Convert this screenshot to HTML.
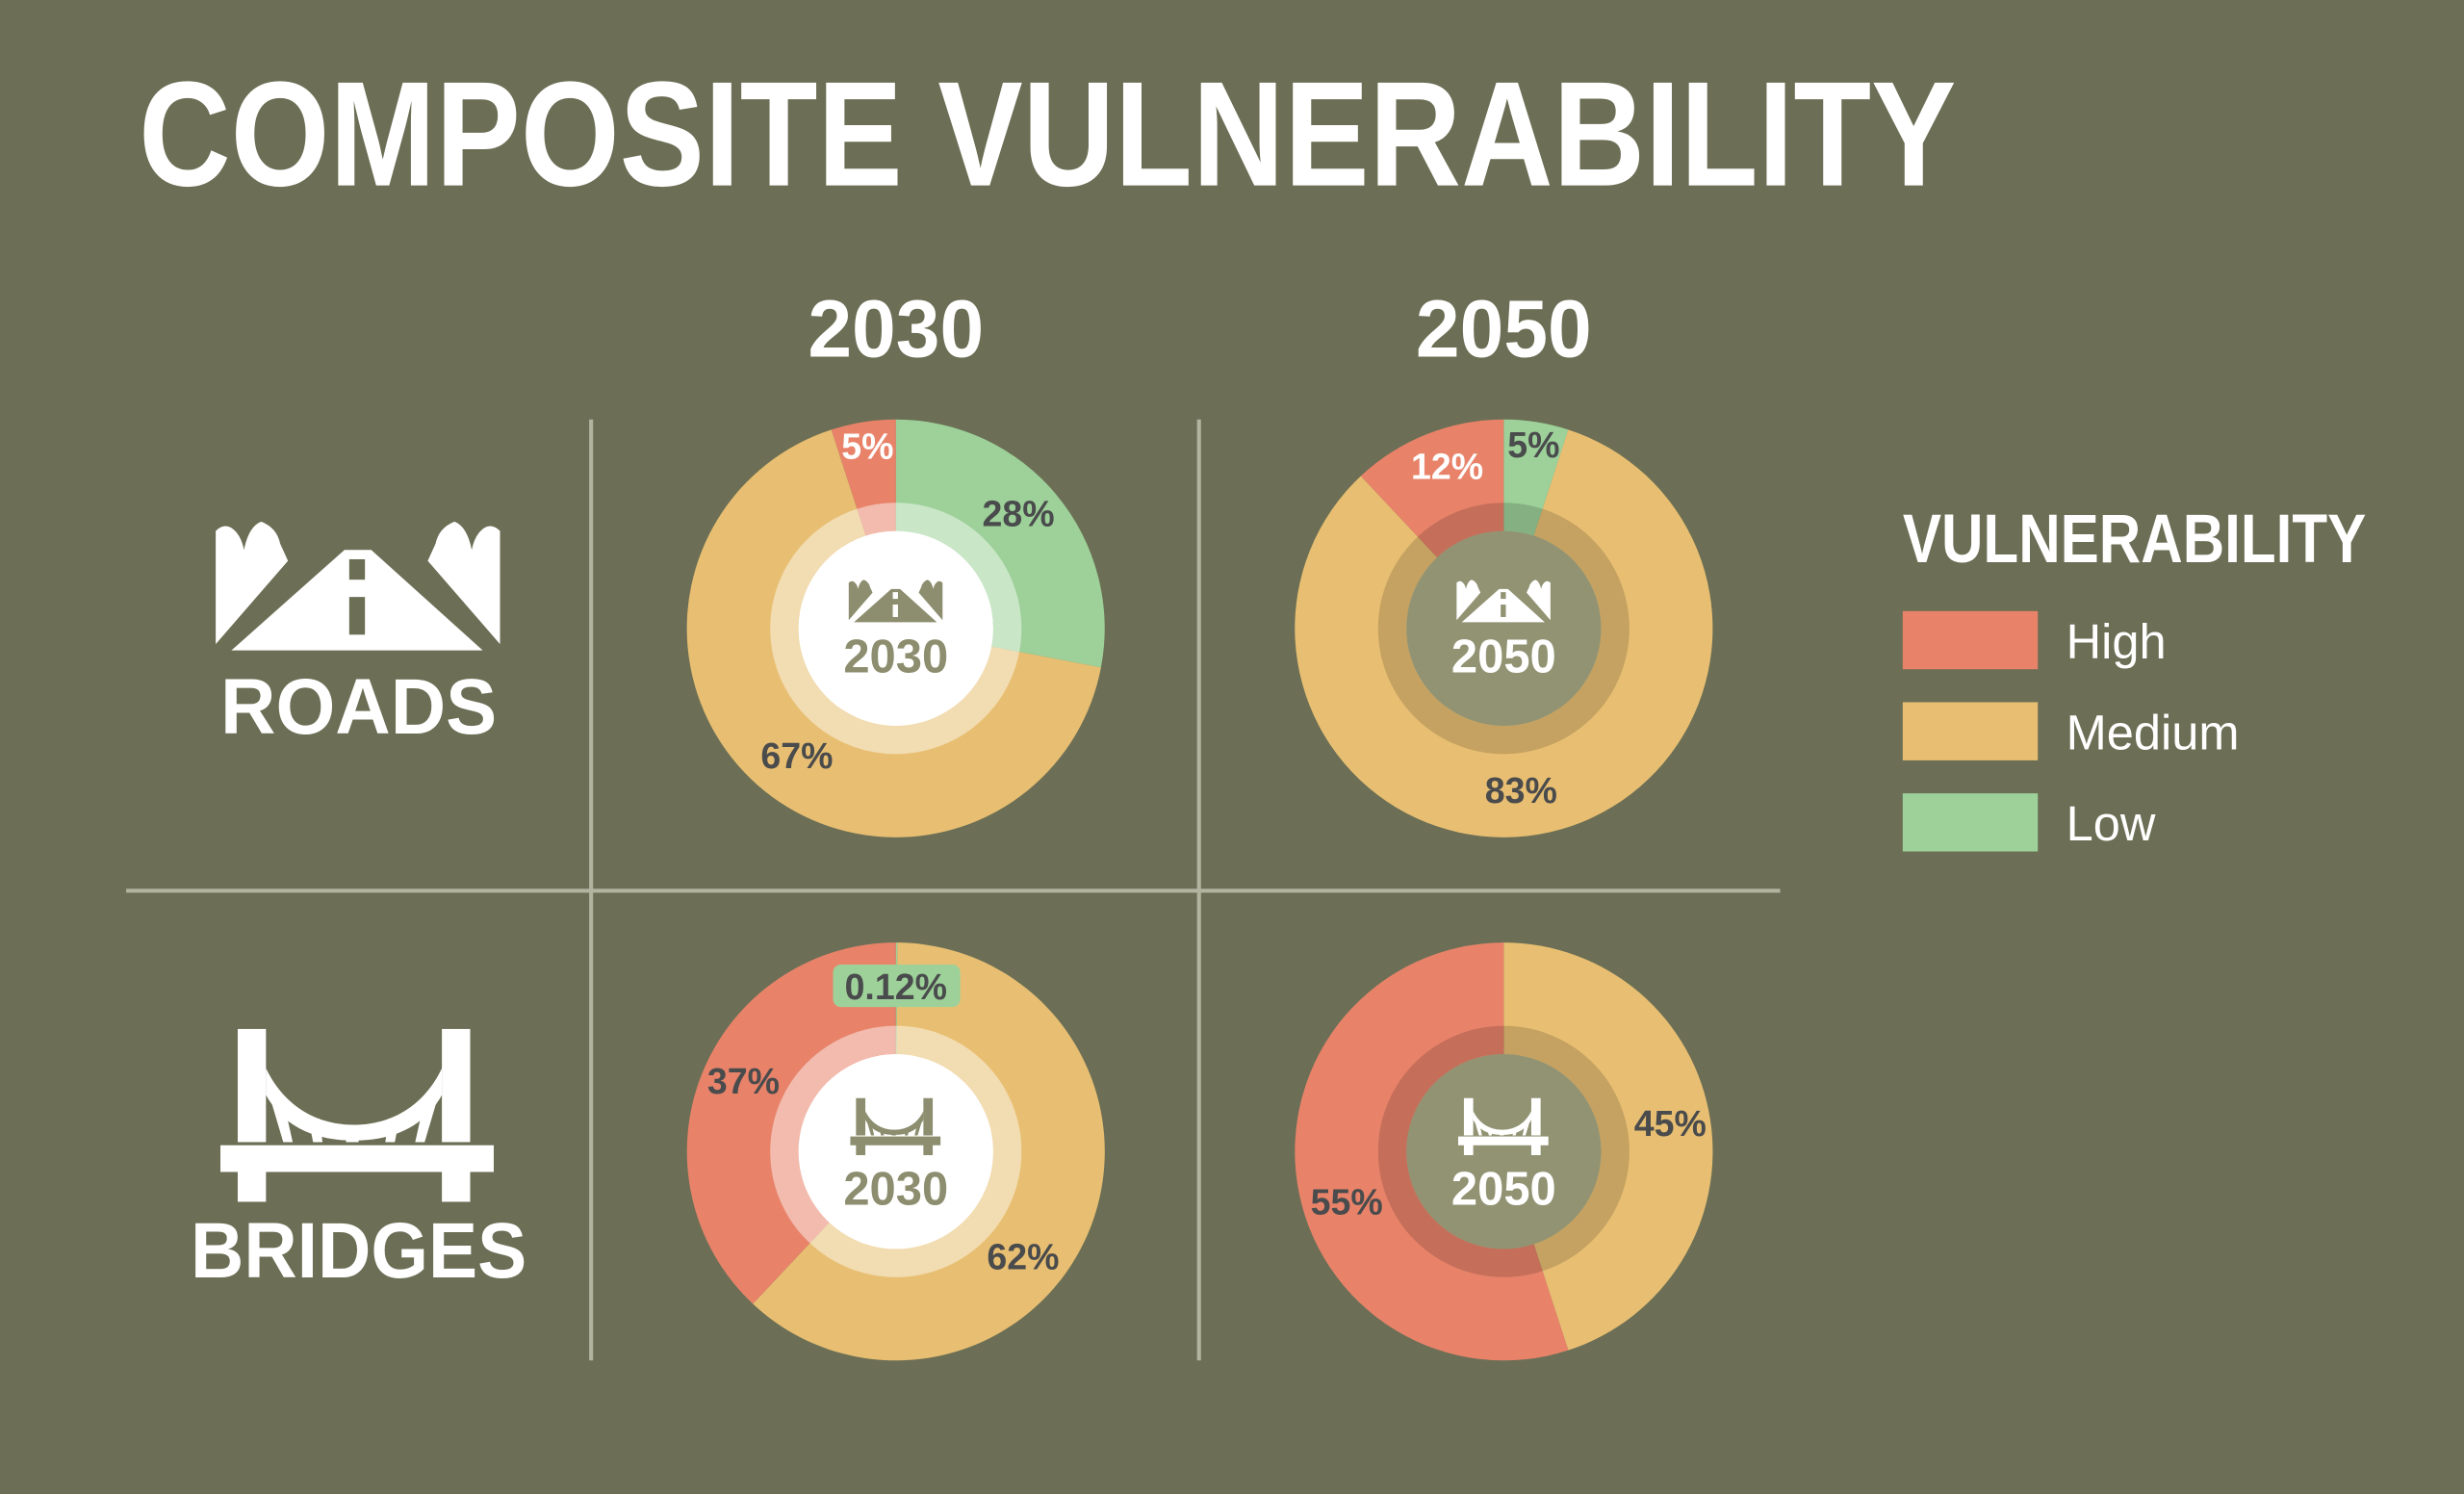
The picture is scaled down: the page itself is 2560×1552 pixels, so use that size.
<!DOCTYPE html>
<html><head><meta charset="utf-8"><style>
html,body{margin:0;padding:0;background:#6c6f55;}
svg{display:block;}
text{font-family:"Liberation Sans","DejaVu Sans",sans-serif;}
</style></head><body>
<svg width="2560" height="1552" viewBox="0 0 1568 951" xmlns="http://www.w3.org/2000/svg">
<defs>
<g id="road">
<path d="M137,338 Q142,333 147,336 Q153,340 155,350 Q158,335 166,332 Q176,336 178,346 L183,357 L137,410 Z"/>
<path d="M318,338 Q313,333 308,336 Q302,340 300,350 Q297,335 289,332 Q279,336 277,346 L272,357 L318,410 Z"/>
<path d="M147,414 L307,414 L236,350 L219,350 Z"/>
</g>
<g id="bridge">
<rect x="151" y="655" width="18" height="72"/>
<rect x="281" y="655" width="18" height="72"/>
<rect x="140" y="729" width="174" height="17"/>
<rect x="151" y="745" width="18" height="20"/>
<rect x="281" y="745" width="18" height="20"/>
<path d="M169,680 C180,703 200,716 225,716 C250,716 270,703 281,680 L281,697 C270,717 250,726 225,726 C200,726 180,717 169,697 Z"/>
<path d="M172,700 L180,700 L186,727 L180,727 Z M196,712 L203,712 L205,727 L199,727 Z M220,720 L228,720 L228,727 L220,727 Z M247,712 L254,712 L251,727 L245,727 Z M270,700 L278,700 L270,727 L264,727 Z"/>
</g>
</defs>
<rect width="1568" height="951" fill="#6c6f55"/>
<text x="88" y="118" font-size="95" font-weight="bold" fill="#fff" textLength="1157" lengthAdjust="spacingAndGlyphs">COMPOSITE VULNERABILITY</text>
<text x="570" y="227" font-size="52" font-weight="bold" fill="#fff" text-anchor="middle" textLength="112" lengthAdjust="spacingAndGlyphs">2030</text>
<text x="957" y="227" font-size="52" font-weight="bold" fill="#fff" text-anchor="middle" textLength="112" lengthAdjust="spacingAndGlyphs">2050</text>
<g stroke="#b3b4a0" stroke-width="2.5">
<line x1="376" y1="267" x2="376" y2="866"/>
<line x1="763" y1="267" x2="763" y2="866"/>
<line x1="80" y1="567" x2="1133" y2="567"/>
</g>
<g fill="#fff">
<use href="#road"/>
<rect x="222" y="356" width="10" height="13" fill="#6c6f55"/>
<rect x="222" y="380" width="10" height="24" fill="#6c6f55"/>
<use href="#bridge"/>
</g>
<text x="228" y="467" font-size="50" font-weight="bold" fill="#fff" text-anchor="middle" textLength="176" lengthAdjust="spacingAndGlyphs">ROADS</text>
<text x="228" y="813" font-size="50" font-weight="bold" fill="#fff" text-anchor="middle" textLength="214" lengthAdjust="spacingAndGlyphs">BRIDGES</text>

<g transform="translate(570,400)">
<path d="M0,0 L0,-133 A133,133 0 0 1 130.6,24.9 Z" fill="#9dd199"/>
<path d="M0,0 L130.6,24.9 A133,133 0 1 1 -41.1,-126.5 Z" fill="#e8bf72"/>
<path d="M0,0 L-41.1,-126.5 A133,133 0 0 1 0,-133 Z" fill="#e8836a"/>
<circle r="71" fill="none" stroke="#fff" stroke-opacity="0.45" stroke-width="18"/>
<circle r="62" fill="#fff"/>
</g>
<g transform="translate(957,400)">
<path d="M0,0 L0,-133 A133,133 0 0 1 41.1,-126.5 Z" fill="#9dd199"/>
<path d="M0,0 L41.1,-126.5 A133,133 0 1 1 -91,-97 Z" fill="#e8bf72"/>
<path d="M0,0 L-91,-97 A133,133 0 0 1 0,-133 Z" fill="#e8836a"/>
<circle r="71" fill="none" stroke="#000" stroke-opacity="0.15" stroke-width="18"/>
<circle r="62" fill="#929373"/>
</g>
<g transform="translate(570,733)">
<path d="M0,0 L0,-133 A133,133 0 0 1 1,-133 Z" fill="#9dd199"/>
<path d="M0,0 L1,-133 A133,133 0 1 1 -91,97 Z" fill="#e8bf72"/>
<path d="M0,0 L-91,97 A133,133 0 0 1 0,-133 Z" fill="#e8836a"/>
<circle r="71" fill="none" stroke="#fff" stroke-opacity="0.45" stroke-width="18"/>
<circle r="62" fill="#fff"/>
</g>
<g transform="translate(957,733)">
<path d="M0,0 L0,-133 A133,133 0 0 1 41.1,126.5 Z" fill="#e8bf72"/>
<path d="M0,0 L41.1,126.5 A133,133 0 1 1 0,-133 Z" fill="#e8836a"/>
<circle r="71" fill="none" stroke="#000" stroke-opacity="0.15" stroke-width="18"/>
<circle r="62" fill="#929373"/>
</g>

<g fill="#8d8e6f" transform="translate(540,369) scale(0.33)">
<g transform="translate(-137,-332)"><use href="#road"/><rect x="222" y="356" width="10" height="13" fill="#fff"/><rect x="222" y="380" width="10" height="24" fill="#fff"/></g>
</g>
<g fill="#fff" transform="translate(927,369) scale(0.33)">
<g transform="translate(-137,-332)"><use href="#road"/><rect x="222" y="356" width="10" height="13" fill="#929373"/><rect x="222" y="380" width="10" height="24" fill="#929373"/></g>
</g>
<g fill="#8d8e6f" transform="translate(541,699) scale(0.33)">
<g transform="translate(-140,-655)"><use href="#bridge"/></g>
</g>
<g fill="#fff" transform="translate(928,699) scale(0.33)">
<g transform="translate(-140,-655)"><use href="#bridge"/></g>
</g>
<g font-size="30" font-weight="bold" text-anchor="middle">
<text x="570" y="428" fill="#8d8e6f">2030</text>
<text x="957" y="428" fill="#fff">2050</text>
<text x="570" y="767" fill="#8d8e6f">2030</text>
<text x="957" y="767" fill="#fff">2050</text>
</g>

<rect x="530" y="614" width="81" height="27" rx="5" fill="#9dd199"/>
<g font-size="23" font-weight="bold" text-anchor="middle" fill="#4a4b4c">
<text x="552" y="292" fill="#fff">5%</text>
<text x="648" y="335">28%</text>
<text x="507" y="489">67%</text>
<text x="921" y="305" fill="#fff">12%</text>
<text x="976" y="291">5%</text>
<text x="968" y="511">83%</text>
<text x="570" y="636">0.12%</text>
<text x="473" y="696">37%</text>
<text x="651" y="808">62%</text>
<text x="1063" y="723">45%</text>
<text x="857" y="773">55%</text>
</g>

<text x="1211" y="358" font-size="44" font-weight="bold" fill="#fff" textLength="295" lengthAdjust="spacingAndGlyphs">VULNERABILITY</text>
<rect x="1211" y="389" width="86" height="37" fill="#e8836a"/>
<rect x="1211" y="447" width="86" height="37" fill="#e8bf72"/>
<rect x="1211" y="505" width="86" height="37" fill="#9dd199"/>
<g font-size="31" fill="#fff">
<text x="1315" y="419">High</text>
<text x="1315" y="477">Medium</text>
<text x="1315" y="535">Low</text>
</g>
</svg>
</body></html>
